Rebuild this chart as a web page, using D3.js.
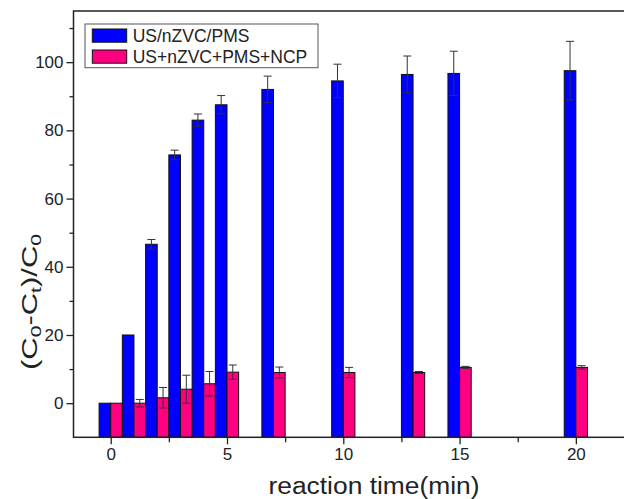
<!DOCTYPE html>
<html>
<head>
<meta charset="utf-8">
<script src="https://cdn.jsdelivr.net/npm/d3@7"></script>
<style>
body { margin: 0; background: #fff; }
text { font-family: "Liberation Sans", Arial, sans-serif; fill: #222; }
</style>
</head>
<body>
<svg id="chart"></svg>
<script>

var times = [0, 1, 2, 3, 4, 5, 7, 10, 13, 15, 20]
var series = ["US/nZVC/PMS", "US+nZVC+PMS+NCP"]
var blueVals = [0, 20, 46.6, 72.8, 83, 87.5, 92, 94.5, 96.4, 96.7, 97.5]
var blueErr = [0, 0, 1.4, 1.4, 1.8, 2.7, 3.9, 4.9, 5.4, 6.5, 8.6]
var pinkVals = [0, 0, 1.6, 4.1, 5.7, 9.1, 9, 9, 9, 10.5, 10.5]
var pinkErr = [0, 1.1, 3, 4.1, 3.6, 2.1, 1.6, 1.5, 0.3, 0.3, 0.5]
var xTicks = [0, 5, 10, 15, 20]
var yTicks = [0, 20, 40, 60, 80, 100]

var screen = { width: 624, height: 499 }
var plot = { left: 73.5, right: 634, top: 11, bottom: 437.3 }
var colors = ["#0000ff", "#ff0080"]
var barW = 0.5

var svg = d3.select("#chart")
  .attr("width", screen.width)
  .attr("height", screen.height)

var xScale = d3.scaleLinear()
  .domain([-1.6, 22.5])
  .range([plot.left, plot.right])

var yScale = d3.scaleLinear()
  .domain([-10, 115])
  .range([plot.bottom, plot.top])

var bars = []
times.forEach(function(t, i){
  bars.push({x0: t - barW, v: blueVals[i], e: blueErr[i], s: 0})
  bars.push({x0: t, v: pinkVals[i], e: pinkErr[i], s: 1})
})

svg.selectAll("rect.bar")
  .data(bars)
  .enter()
  .append("rect")
  .attr("class", "bar")
  .attr("x", function(d){ return xScale(d.x0) })
  .attr("width", function(d){ return xScale(d.x0 + barW) - xScale(d.x0) })
  .attr("y", function(d){ return yScale(Math.max(d.v, -10)) })
  .attr("height", function(d){ return yScale(-10) - yScale(d.v) })
  .attr("fill", function(d){ return colors[d.s] })
  .attr("stroke", "#111")
  .attr("stroke-width", 1)

// error bars
var errs = svg.selectAll("g.err")
  .data(bars.filter(function(d){ return d.e > 0 }))
  .enter()
  .append("g")
  .attr("class", "err")
  .attr("stroke", "#333")
  .attr("stroke-width", 1)

errs.append("line")
  .attr("x1", function(d){ return xScale(d.x0 + barW / 2) })
  .attr("x2", function(d){ return xScale(d.x0 + barW / 2) })
  .attr("y1", function(d){ return yScale(d.v - d.e) })
  .attr("y2", function(d){ return yScale(d.v + d.e) })

errs.selectAll("line.cap")
  .data(function(d){ return [{d: d, y: d.v + d.e}, {d: d, y: d.v - d.e}] })
  .enter()
  .append("line")
  .attr("class", "cap")
  .attr("x1", function(c){ return xScale(c.d.x0 + barW / 2) - 4 })
  .attr("x2", function(c){ return xScale(c.d.x0 + barW / 2) + 4 })
  .attr("y1", function(c){ return yScale(c.y) })
  .attr("y2", function(c){ return yScale(c.y) })

// frame
svg.append("rect")
  .attr("x", plot.left)
  .attr("y", plot.top)
  .attr("width", plot.right - plot.left)
  .attr("height", plot.bottom - plot.top)
  .attr("fill", "none")
  .attr("stroke", "#222")
  .attr("stroke-width", 1.5)

var xAxis = d3.axisBottom(xScale)
  .tickValues(xTicks)
  .tickSize(7)
  .tickPadding(4)
  .tickFormat(d3.format("d"))
var gx = svg.append("g")
  .attr("transform", "translate(0," + plot.bottom + ")")
  .call(xAxis)
svg.append("g")
  .attr("transform", "translate(0," + plot.bottom + ")")
  .call(d3.axisBottom(xScale).tickValues([2.5, 7.5, 12.5, 17.5]).tickSize(5).tickFormat(""))

var yAxis = d3.axisLeft(yScale)
  .tickValues(yTicks)
  .tickSize(7)
  .tickPadding(3)
var gy = svg.append("g")
  .attr("transform", "translate(" + plot.left + ",0)")
  .call(yAxis)
svg.append("g")
  .attr("transform", "translate(" + plot.left + ",0)")
  .call(d3.axisLeft(yScale).tickValues([10, 30, 50, 70, 90, 110]).tickSize(4).tickFormat(""))

svg.selectAll(".domain").remove()
svg.selectAll(".tick line").attr("stroke", "#222").attr("stroke-width", 1.3)
svg.selectAll(".tick text")
  .attr("font-family", "Liberation Sans, Arial, sans-serif")
  .attr("font-size", "17px")
  .attr("fill", "#222")

// axis titles
svg.append("text")
  .attr("x", 374)
  .attr("y", 494)
  .attr("text-anchor", "middle")
  .attr("font-size", "23px")
  .attr("textLength", 211)
  .attr("lengthAdjust", "spacingAndGlyphs")
  .text("reaction time(min)")

var yt = svg.append("text")
  .attr("transform", "translate(37,302) rotate(-90)")
  .attr("text-anchor", "middle")
  .attr("font-size", "22px")
  .attr("textLength", 136)
  .attr("lengthAdjust", "spacingAndGlyphs")
var parts = [["(C", 0], ["0", 1], ["-C", 0], ["t", 1], [")/C", 0], ["0", 1]]
parts.forEach(function(p){
  yt.append("tspan")
    .attr("font-size", p[1] ? "15px" : "22px")
    .attr("dy", p[1] ? 4 : -4)
    .text(p[0])
})
yt.select("tspan").attr("dy", 0)

// legend
var legend = svg.append("g")
legend.append("rect")
  .attr("x", 85).attr("y", 24)
  .attr("width", 233).attr("height", 43.7)
  .attr("fill", "#fff")
  .attr("stroke", "#555")
  .attr("stroke-width", 1)
legend.selectAll("rect.sw")
  .data(series)
  .enter()
  .append("rect")
  .attr("class", "sw")
  .attr("x", 92.3)
  .attr("y", function(d, i){ return 29 + i * 21 })
  .attr("width", 34.4)
  .attr("height", 13.2)
  .attr("fill", function(d, i){ return colors[i] })
  .attr("stroke", "#111")
legend.selectAll("text")
  .data(series)
  .enter()
  .append("text")
  .attr("x", 132.7)
  .attr("y", function(d, i){ return 41.7 + i * 21 })
  .attr("font-size", "17.5px")
  .text(function(d){ return d })

</script>
</body>
</html>
